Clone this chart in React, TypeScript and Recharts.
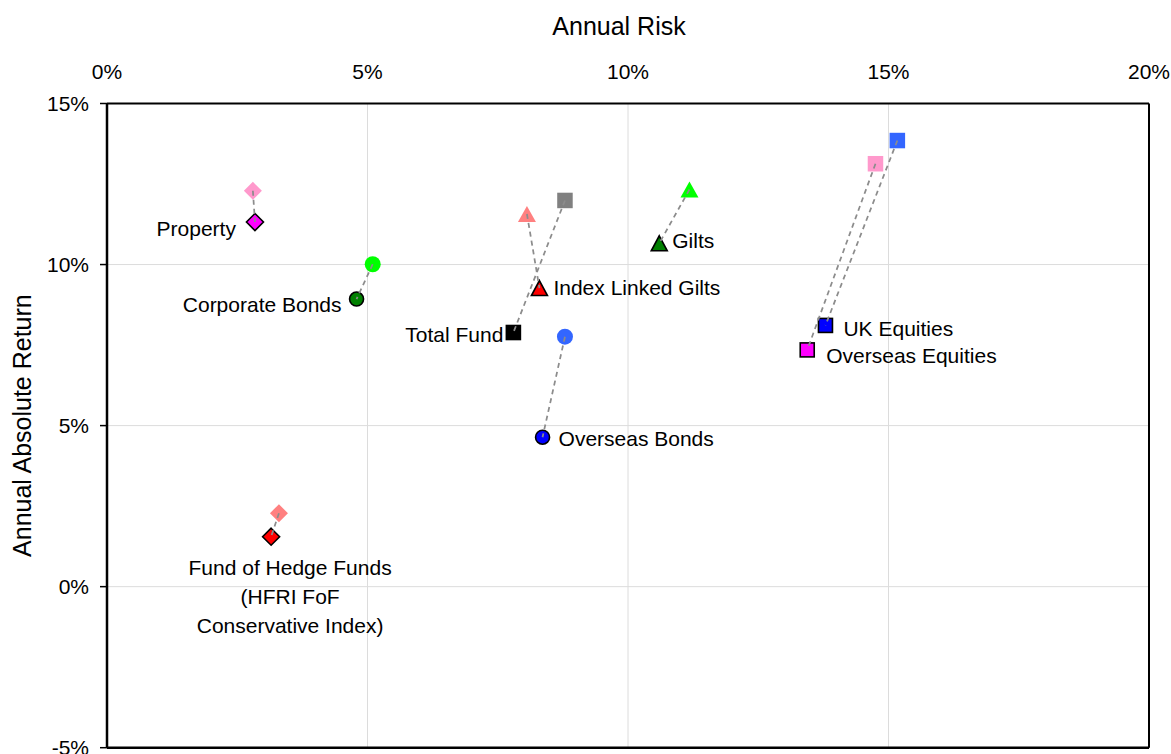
import React from "react";
import { ScatterChart, Scatter, XAxis, YAxis, CartesianGrid, ReferenceLine, Label } from "recharts";

// asset classes, same order in every array below
const assets = [
    "Property",
    "Corporate Bonds",
    "Total Fund",
    "Index Linked Gilts",
    "Gilts",
    "Overseas Bonds",
    "UK Equities",
    "Overseas Equities",
    "Fund of Hedge Funds (HFRI FoF Conservative Index)",
];

// benchmark (faded markers)
const benchRisk = [2.8, 5.1, 8.79, 8.06, 11.18, 8.79, 15.17, 14.75, 3.3];
const benchReturn = [12.29, 10.01, 11.99, 11.57, 12.33, 7.76, 13.85, 13.13, 2.28];

// fund (outlined markers)
const fundRisk = [2.84, 4.79, 7.8, 8.3, 10.6, 8.36, 13.79, 13.44, 3.15];
const fundReturn = [11.32, 8.93, 7.89, 9.27, 10.66, 4.64, 8.11, 7.35, 1.55];

const xTicks = [0, 5, 10, 15, 20];
const yTicks = [-5, 0, 5, 10, 15];

const FONT = "'Liberation Sans', Arial, sans-serif";

// marker look per asset
const markerStyle = [
    { kind: "diamond", bench: "#FF99CC", fund: "#FF00FF" },
    { kind: "circle", bench: "#00FF00", fund: "#008000" },
    { kind: "square", bench: "#808080", fund: "#000000" },
    { kind: "triangle", bench: "#FF8080", fund: "#FF0000" },
    { kind: "triangle", bench: "#00FF00", fund: "#008000" },
    { kind: "circle", bench: "#3366FF", fund: "#0000FF" },
    { kind: "square", bench: "#3366FF", fund: "#0000FF" },
    { kind: "square", bench: "#FF99CC", fund: "#FF00FF" },
    { kind: "diamond", bench: "#FF8080", fund: "#FF0000" },
];

// where each fund label sits relative to its marker
const labelPlace = [
    { dx: -19, dy: 6, anchor: "end", lines: ["Property"] },
    { dx: -15, dy: 5, anchor: "end", lines: ["Corporate Bonds"] },
    { dx: -10, dy: 1.5, anchor: "end", lines: ["Total Fund"] },
    { dx: 14, dy: -1, anchor: "start", lines: ["Index Linked Gilts"] },
    { dx: 13, dy: -3, anchor: "start", lines: ["Gilts"] },
    { dx: 16, dy: 1.5, anchor: "start", lines: ["Overseas Bonds"] },
    { dx: 18, dy: 3, anchor: "start", lines: ["UK Equities"] },
    { dx: 19, dy: 6, anchor: "start", lines: ["Overseas Equities"] },
    { dx: 19, dy: 30.5, anchor: "middle", lines: ["Fund of Hedge Funds", "(HFRI FoF", "Conservative Index)"] },
];

const benchData = assets.map((name, i) => ({ name, risk: benchRisk[i], ret: benchReturn[i], idx: i }));
const fundData = assets.map((name, i) => ({ name, risk: fundRisk[i], ret: fundReturn[i], idx: i }));

function Marker({ cx, cy, kind, fill, outlined }) {
    const stroke = outlined ? "#000" : "none";
    const sw = outlined ? 1.6 : 0;
    if (kind === "square") {
        const s = outlined ? 14 : 15.5;
        return <rect x={cx - s / 2} y={cy - s / 2} width={s} height={s} fill={fill} stroke={stroke} strokeWidth={sw} />;
    }
    if (kind === "circle") {
        return <circle cx={cx} cy={cy} r={outlined ? 7 : 8} fill={fill} stroke={stroke} strokeWidth={sw} />;
    }
    if (kind === "diamond") {
        const r = outlined ? 8.5 : 9;
        return <polygon points={`${cx},${cy - r} ${cx + r},${cy} ${cx},${cy + r} ${cx - r},${cy}`} fill={fill} stroke={stroke} strokeWidth={sw} />;
    }
    const h = outlined ? 15 : 16;
    const w = outlined ? 16 : 18;
    return (
        <polygon
            points={`${cx},${cy - h / 2} ${cx + w / 2},${cy + h / 2} ${cx - w / 2},${cy + h / 2}`}
            fill={fill}
            stroke={stroke}
            strokeWidth={sw}
            strokeLinejoin="miter"
        />
    );
}

function BenchShape(props) {
    const { cx, cy, payload } = props;
    const st = markerStyle[payload.idx];
    return <Marker cx={cx} cy={cy} kind={st.kind} fill={st.bench} outlined={false} />;
}

function FundShape(props) {
    const { cx, cy, payload } = props;
    const st = markerStyle[payload.idx];
    const lp = labelPlace[payload.idx];
    return (
        <g>
            <Marker cx={cx} cy={cy} kind={st.kind} fill={st.fund} outlined={true} />
            {lp.lines.map((line, k) => (
                <text
                    key={k}
                    x={cx + lp.dx}
                    y={cy + lp.dy + k * 29 + 7.5}
                    textAnchor={lp.anchor}
                    fontSize={21}
                    fontFamily={FONT}
                    fill="#000"
                >
                    {line}
                </text>
            ))}
        </g>
    );
}

const NoShape = () => <g />;

export default function App() {
    return (
        <div style={{ position: "absolute", left: 0, top: 0, background: "#fff", fontFamily: FONT }}>
            <ScatterChart width={1171} height={754} margin={{ top: 63.5, right: 22, bottom: 6.3, left: 47 }}>
                <CartesianGrid stroke="#dcdcdc" strokeWidth={1} />
                <XAxis
                    type="number"
                    dataKey="risk"
                    orientation="top"
                    domain={[0, 20]}
                    ticks={xTicks}
                    interval={0}
                    height={40}
                    tickFormatter={v => `${v}%`}
                    tick={{ fill: "#000", fontSize: 21, fontFamily: FONT }}
                    tickLine={false}
                    tickSize={0}
                    tickMargin={25}
                    axisLine={{ stroke: "#000", strokeWidth: 2 }}
                    allowDataOverflow
                >
                    <Label
                        content={({ viewBox }) => (
                            <text x={viewBox.x + viewBox.width / 2 - 9} y={35} textAnchor="middle" fontSize={25} fontFamily={FONT} fill="#000">
                                Annual Risk
                            </text>
                        )}
                    />
                </XAxis>
                <YAxis
                    type="number"
                    dataKey="ret"
                    domain={[-5, 15]}
                    ticks={yTicks}
                    interval={0}
                    width={60}
                    tickFormatter={v => `${v}%`}
                    tick={{ fill: "#000", fontSize: 21, fontFamily: FONT }}
                    tickLine={{ stroke: "#000", strokeWidth: 1.5 }}
                    tickSize={7}
                    tickMargin={11}
                    axisLine={{ stroke: "#000", strokeWidth: 2.5 }}
                    allowDataOverflow
                >
                    <Label
                        content={({ viewBox }) => {
                            const cx = 22;
                            const cy = viewBox.y + viewBox.height / 2;
                            return (
                                <text
                                    x={cx}
                                    y={cy}
                                    transform={`rotate(-90, ${cx}, ${cy})`}
                                    textAnchor="middle"
                                    dominantBaseline="central"
                                    fontSize={25}
                                    fontFamily={FONT}
                                    fill="#000"
                                >
                                    Annual Absolute Return
                                </text>
                            );
                        }}
                    />
                </YAxis>
                <ReferenceLine x={20} stroke="#000" strokeWidth={2} />
                <ReferenceLine y={-5} stroke="#000" strokeWidth={2.5} />
                <Scatter data={benchData} shape={BenchShape} isAnimationActive={false} />
                <Scatter data={fundData} shape={FundShape} isAnimationActive={false} />
                {assets.map((name, i) => (
                    <Scatter
                        key={name}
                        data={[benchData[i], fundData[i]]}
                        shape={NoShape}
                        line={{ stroke: "#8c8c8c", strokeWidth: 1.75, strokeDasharray: "5 4" }}
                        isAnimationActive={false}
                    />
                ))}
            </ScatterChart>
        </div>
    );
}
